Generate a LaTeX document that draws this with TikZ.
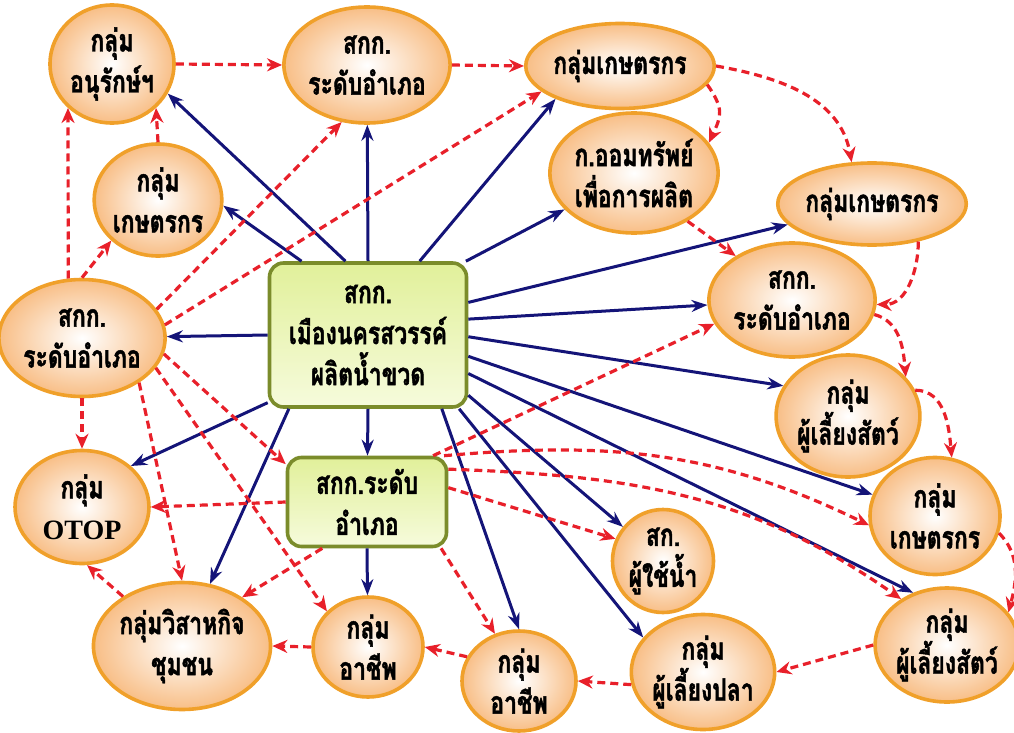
\documentclass[tikz,border=0pt]{standalone}
\usepackage{fontspec}
\newfontfamily\thaifont[Script=Thai, FakeStretch=0.74, BoldFeatures={FakeBold=1.4}]{Loma}
\newfontfamily\latinserif{Liberation Serif}
\usetikzlibrary{shapes.geometric,arrows.meta}
\definecolor{ovborder}{HTML}{F0A02A}
\definecolor{ovfill}{HTML}{F8BE86}
\definecolor{boxborder}{HTML}{7B8C2B}
\definecolor{boxtop}{HTML}{E1F09A}
\definecolor{boxbot}{HTML}{F6FBDC}
\definecolor{navyline}{HTML}{141478}
\definecolor{redline}{HTML}{E8202A}
\begin{document}
\begin{tikzpicture}[x=1pt,y=-1pt,
  txt/.style={align=center, font=\thaifont\bfseries\fontsize{31}{41}\selectfont},
  ov/.style 2 args={ellipse, draw=ovborder, line width=3.6pt, inner color=white, outer color=ovfill,
    minimum width=#1, minimum height=#2, inner sep=0pt, txt},
  gbox/.style 2 args={rectangle, rounded corners=14pt, draw=boxborder, line width=3.6pt,
    top color=boxtop, bottom color=boxbot, minimum width=#1, minimum height=#2, inner sep=0pt, txt},
  darr/.style={draw=navyline, line width=3pt, -{Stealth[length=16pt,width=12pt]}},
  rarr/.style={draw=redline, line width=3.2pt, dash pattern=on 8pt off 5pt, -{Stealth[length=15pt,width=13pt]}}
]
\useasboundingbox (0,0) rectangle (1014,733);

% nodes
\node[ov={124}{118}] (A) at (112,64) {กลุ่ม\\อนุรักษ์ฯ};
\node[ov={160}{116}] (B) at (367,65) {สกก.\\ระดับอำเภอ};
\node[ov={160}{85}] (C) at (620,66) {กลุ่มเกษตรกร};
\node[ov={152}{120}] (D) at (634,173) {ก.ออมทรัพย์\\เพื่อการผลิต};
\node[ov={158}{82}] (E) at (872,204) {กลุ่มเกษตรกร};
\node[ov={150}{114}] (F) at (792,300) {สกก.\\ระดับอำเภอ};
\node[ov={133}{122}] (G) at (848,416) {กลุ่ม\\ผู้เลี้ยงสัตว์};
\node[ov={130}{117}] (H) at (935,516) {กลุ่ม\\เกษตรกร};
\node[ov={132}{114}] (I) at (947,645) {กลุ่ม\\ผู้เลี้ยงสัตว์};
\node[ov={130}{115}] (J) at (703,672) {กลุ่ม\\ผู้เลี้ยงปลา};
\node[ov={101}{103}] (K) at (663,561) {สก.\\ผู้ใช้น้ำ};
\node[ov={114}{100}] (L) at (519,681) {กลุ่ม\\อาชีพ};
\node[ov={110}{100}] (M) at (368,647) {กลุ่ม\\อาชีพ};
\node[ov={151}{127}] (N) at (182,646) {กลุ่มวิสาหกิจ\\ชุมชน};
\node[ov={134}{113}] (O) at (82,507) {กลุ่ม\\{\latinserif\bfseries\fontsize{28}{41}\selectfont OTOP}};
\node[ov={150}{117}] (P) at (82,338) {สกก.\\ระดับอำเภอ};
\node[ov={127}{112}] (Q) at (158,200) {กลุ่ม\\เกษตรกร};
\node[gbox={197}{144}] (R) at (368,335) {สกก.\\เมืองนครสวรรค์\\ผลิตน้ำขวด};
\node[gbox={159}{89}] (S) at (367,502) {สกก.ระดับ\\อำเภอ};

% blue arrows from the central box
\draw[darr] (R.107) -- (A.-28);
\draw[darr] (R.132) -- (Q.-5);
\draw[darr] (R.north) -- (B);
\draw[darr] (R.55) -- (C.207);
\draw[darr] (R.37) -- (D);
\draw[darr] (R.18) -- (E);
\draw[darr] (R.9) -- (F);
\draw[darr] (R.-1) -- (G.155);
\draw[darr] (R.-12) -- (H);
\draw[darr] (R.-21) -- (I.123);
\draw[darr] (R.-31) -- (K);
\draw[darr] (R.-39) -- (J.150);
\draw[darr] (R.-45) -- (L.north);
\draw[darr] (R.south) -- (S);
\draw[darr] (R.223) -- (N);
\draw[darr] (R.214) -- (O.40);
\draw[darr] (R.west) -- (P);
\draw[darr] (S.south) -- (M);

% red dashed arrows
\draw[rarr] (A.east) -- (B.west);
\draw[rarr] (B.east) -- (C.west);
\draw[rarr] (C.-12) to[out=-55,in=65,looseness=1.3] (D.22);
\draw[rarr] (C.east) to[out=-10,in=100] (E.116);
\draw[rarr] (D.-42) -- (F.142);
\draw[rarr] (E.-39) to[out=-90,in=0] (F.-3);
\draw[rarr] (F.-10) to[out=-15,in=95] (G.34);
\draw[rarr] (G.21) to[out=0,in=95] (H.74);
\draw[rarr] (H.-15) to[out=-45,in=75] (I.28);
\draw[rarr] (I.west) -- (J.east);
\draw[rarr] (J.190) -- (L.east);
\draw[rarr] (L.155) -- (M.east);
\draw[rarr] (M.west) -- (N.east);
\draw[rarr] (N.140) -- (O.-85);
\draw[rarr] (P.south) -- (O.north);
\draw[rarr] (P.103) -- (A.225);
\draw[rarr] (Q.north) -- (A.-45);
\draw[rarr] (P.north) -- (Q.221);
\draw[rarr] (P.21) -- (B.246);
\draw[rarr] (P.9) -- (C.198);
\draw[rarr] (P.-38) -- (N.north);
\draw[rarr] (P.-22) -- (M.139);
\draw[rarr] (P.-11) -- (S.155);
\draw[rarr] (S.west) -- (O.east);
\draw[rarr] (S.226) -- (N.39);
\draw[rarr] (S.-32) -- (L.117);
\draw[rarr] (S.10) -- (K.155);
\draw[rarr] (S.35) -- (F.197);
\draw[rarr] (S.31) to[out=5,in=154] (H.188);
\draw[rarr] (S.22) to[out=-2,in=145] (I.135);
\end{tikzpicture}
\end{document}
